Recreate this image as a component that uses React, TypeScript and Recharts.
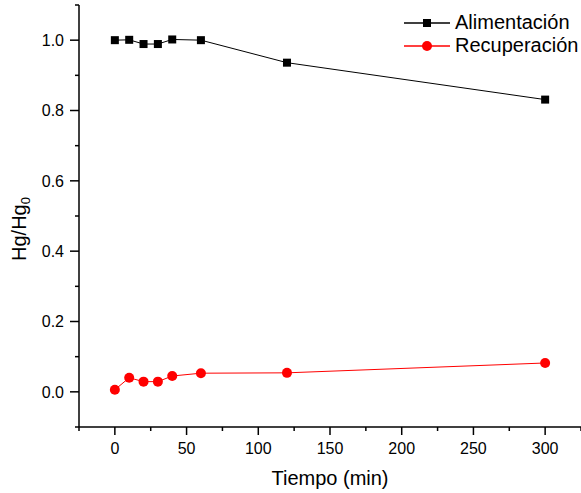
import React from "react";
import { LineChart, Line, XAxis, YAxis } from "recharts";

const tiempo = [0, 10, 20, 30, 40, 60, 120, 300];
const alimentacion = [1.0, 1.001, 0.989, 0.989, 1.002, 1.0, 0.936, 0.831];
const recuperacion = [0.006, 0.04, 0.029, 0.029, 0.045, 0.053, 0.054, 0.082];

const xTicks = [-25, 0, 25, 50, 75, 100, 125, 150, 175, 200, 225, 250, 275, 300, 325];
const yTicks = [-0.1, 0, 0.1, 0.2, 0.3, 0.4, 0.5, 0.6, 0.7, 0.8, 0.9, 1.0, 1.1];

const data = tiempo.map((t, i) => ({
  t,
  alim: alimentacion[i],
  recup: recuperacion[i],
}));

const FONT = "'Liberation Sans', Arial, sans-serif";

const series = [
  { key: "alim", name: "Alimentación", color: "#000" },
  { key: "recup", name: "Recuperación", color: "#ff0000" },
];

const XTick = (props: any) => {
  const { x, y, payload } = props;
  const v = payload.value;
  const major = v % 50 === 0;
  return (
    <g>
      <line x1={x} x2={x} y1={y} y2={y + (major ? 8 : 4)} stroke="#000" strokeWidth={1.5} />
      {major && (
        <text x={x} y={y + 27} textAnchor="middle" fontSize={16} fontFamily={FONT} fill="#000">
          {v}
        </text>
      )}
    </g>
  );
};

const YTick = (props: any) => {
  const { x, y, payload } = props;
  const v = payload.value;
  const major = Math.round(v * 10) % 2 === 0;
  return (
    <g>
      <line x1={x - (major ? 9 : 4)} x2={x} y1={y} y2={y} stroke="#000" strokeWidth={1.5} />
      {major && (
        <text x={x - 15} y={y} dy={5.8} textAnchor="end" fontSize={16} fontFamily={FONT} fill="#000">
          {v.toFixed(1)}
        </text>
      )}
    </g>
  );
};

const SquareDot = (props: any) => {
  const { cx, cy } = props;
  if (cx == null || cy == null) return null;
  return <rect x={cx - 4} y={cy - 4} width={8} height={8} fill="#000" />;
};

const CircleDot = (props: any) => {
  const { cx, cy } = props;
  if (cx == null || cy == null) return null;
  return <circle cx={cx} cy={cy} r={5} fill="#ff0000" />;
};

function LegendBox() {
  return (
    <div
      style={{
        position: "absolute",
        left: 404,
        top: 11,
        fontFamily: FONT,
        fontSize: 20,
        lineHeight: "23px",
        color: "#000",
      }}
    >
      {series.map((s) => (
        <div key={s.key} style={{ display: "flex", alignItems: "center", height: 23 }}>
          <svg width={50} height={23} style={{ marginRight: 1 }}>
            <line x1={0} x2={46} y1={12} y2={12} stroke={s.color} strokeWidth={1.5} />
            {s.key === "alim" ? (
              <rect x={19} y={8} width={8} height={8} fill="#000" />
            ) : (
              <circle cx={23} cy={12} r={5} fill="#ff0000" />
            )}
          </svg>
          <span>{s.name}</span>
        </div>
      ))}
    </div>
  );
}

export default function App() {
  return (
    <div style={{ position: "absolute", left: 0, top: 0, width: 581, height: 493, background: "#fff" }}>
      <LineChart width={581} height={493} data={data} margin={{ top: 5, right: 0, left: 0, bottom: 0 }}>
        <XAxis
          xAxisId="top"
          orientation="top"
          dataKey="t"
          type="number"
          domain={[-25, 325]}
          height={0}
          tick={false}
          tickLine={false}
          axisLine={{ stroke: "#000", strokeWidth: 1.5 }}
        />
        <XAxis
          dataKey="t"
          type="number"
          domain={[-25, 325]}
          ticks={xTicks}
          interval={0}
          height={66}
          tickSize={0}
          tickMargin={0}
          tickLine={false}
          tick={<XTick />}
          axisLine={{ stroke: "#000", strokeWidth: 1.5 }}
          label={(p: any) => {
            const vb = p.viewBox || { x: 79, width: 502 };
            return (
              <text x={vb.x + vb.width / 2} y={485} textAnchor="middle" fontSize={20} fontFamily={FONT} fill="#000">
                Tiempo (min)
              </text>
            );
          }}
        />
        <YAxis
          type="number"
          domain={[-0.1, 1.1]}
          ticks={yTicks}
          interval={0}
          width={79}
          tickSize={0}
          tickMargin={0}
          tickLine={false}
          tick={<YTick />}
          axisLine={{ stroke: "#000", strokeWidth: 1.5 }}
          label={() => (
            <text
              x={26}
              y={229}
              transform="rotate(-90, 26, 229)"
              textAnchor="middle"
              fontSize={20}
              fontFamily={FONT}
              fill="#000"
            >
              Hg/Hg<tspan dy={4} fontSize={13}>0</tspan>
            </text>
          )}
        />
        <Line
          dataKey="alim"
          name="Alimentación"
          stroke="#000"
          strokeWidth={1}
          dot={<SquareDot />}
          activeDot={false}
          isAnimationActive={false}
        />
        <Line
          dataKey="recup"
          name="Recuperación"
          stroke="#ff0000"
          strokeWidth={1}
          dot={<CircleDot />}
          activeDot={false}
          isAnimationActive={false}
        />
      </LineChart>
      <LegendBox />
    </div>
  );
}
